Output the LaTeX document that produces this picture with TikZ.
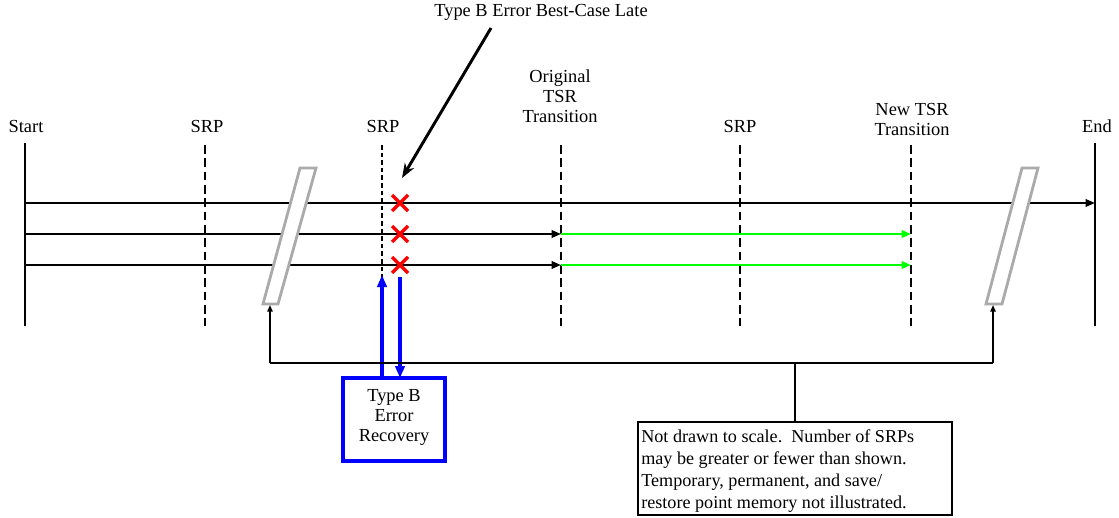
\documentclass[tikz,border=0pt]{standalone}
\usepackage{fontspec}
\setmainfont{Liberation Serif}
\usetikzlibrary{arrows.meta,calc}
\definecolor{bblue}{RGB}{0,0,255}
\definecolor{bgreen}{RGB}{0,255,0}
\definecolor{bred}{RGB}{255,0,0}
\definecolor{pgray}{RGB}{170,170,170}
\begin{document}
\begin{tikzpicture}[x=0.75pt,y=-0.75pt,
  lbl/.style={font=\fontsize{13.8}{15}\selectfont, inner sep=0pt, align=center},
  solidv/.style={line width=2.2pt},
  bigdash/.style={line width=2.2pt, dash pattern=on 6.5pt off 3.5pt},
  smalldash/.style={line width=1.9pt, dash pattern=on 3.5pt off 2.2pt},
  timeline/.style={line width=1.7pt, -{Triangle[length=7pt,width=5.5pt]}},
  greenline/.style={line width=2.1pt, draw=bgreen, -{Triangle[length=7pt,width=5.5pt]}},
  xmark/.style={line width=2.6pt, draw=bred},
  slab/.style={line width=2.1pt, draw=pgray},
  bracket/.style={line width=1.2pt},
  bracketarrow/.style={line width=1.2pt, -{Triangle[length=5pt,width=4pt]}},
  bluearrow/.style={line width=2.5pt, draw=bblue, -{Triangle[length=9pt,width=7pt]}},
  callout/.style={line width=2.2pt, -{Stealth[length=11pt,width=8pt]}}
]
\useasboundingbox (0,0) rectangle (1119,517);

% labels
\node[lbl] (title) at (541,12) {Type B Error Best-Case Late};
\node[lbl] (lstart) at (26,126) {Start};
\node[lbl] (lsrp1) at (207,126) {SRP};
\node[lbl] (lsrp2) at (383,126) {SRP};
\node[lbl] (lorig) at (560,96) {Original\\TSR\\Transition};
\node[lbl] (lsrp3) at (740,126) {SRP};
\node[lbl] (lnew) at (912,119) {New TSR\\Transition};
\node[lbl] (lend) at (1097,126) {End};

% vertical lines
\coordinate (st) at (25,143); \coordinate (sb) at (25,326);
\coordinate (et) at (1095,143); \coordinate (eb) at (1095,326);
\coordinate (s1t) at (205,145); \coordinate (s1b) at (205,326);
\coordinate (s2t) at (382,145); \coordinate (s2b) at (382,326);
\coordinate (ot) at (561,145); \coordinate (ob) at (561,326);
\coordinate (s3t) at (740,145); \coordinate (s3b) at (740,326);
\coordinate (nt) at (911,145); \coordinate (nb) at (911,326);
\draw[solidv] (st) -- (sb);
\draw[solidv] (et) -- (eb);
\draw[bigdash] (s1t) -- (s1b);
\draw[smalldash] (s2t) -- (s2b);
\draw[bigdash] (ot) -- (ob);
\draw[bigdash] (s3t) -- (s3b);
\draw[bigdash] (nt) -- (nb);

% timelines
\coordinate (a1) at (25,203); \coordinate (a1e) at (1095,203);
\coordinate (a2) at (25,234); \coordinate (a2m) at (561,234); \coordinate (a2e) at (911,234);
\coordinate (a3) at (25,265); \coordinate (a3m) at (561,265); \coordinate (a3e) at (911,265);
\draw[timeline] (a1) -- (a1e);
\draw[timeline] (a2) -- (a2m);
\draw[timeline] (a3) -- (a3m);
\draw[greenline] (a2m) -- (a2e);
\draw[greenline] (a3m) -- (a3e);

% gray slabs
\draw[slab, fill=white] (300,168) -- (316,168) -- (278,304) -- (263,304) -- cycle;
\draw[slab, fill=white] (1022,168) -- (1038,168) -- (1002,304) -- (986,304) -- cycle;

% red crosses
\foreach \yy/\nm in {203/x1,234/x2,265/x3}{
  \coordinate (\nm) at (400,\yy);
  \draw[xmark] ($(\nm)+(-8,-8)$) -- ($(\nm)+(8,8)$);
  \draw[xmark] ($(\nm)+(-8,8)$) -- ($(\nm)+(8,-8)$);
}

% callout arrow
\coordinate (cs) at (491,28);
\coordinate (ce) at (402,178);
\draw[callout] (cs) -- (ce);

% recovery box
\node[draw=bblue, line width=2.5pt, inner sep=0pt, minimum width=76.5pt, minimum height=62.25pt] (rec) at (394,419.5) {};
\node[lbl] (rectext) at (394,417) {Type B\\Error\\Recovery};
\coordinate (upb) at (382,378); \coordinate (upt) at (382,275);
\coordinate (dnt) at (400,277); \coordinate (dnb) at (400,378);
\draw[bluearrow] (upb) -- (upt);
\draw[bluearrow] (dnt) -- (dnb);

% bracket
\coordinate (bl) at (270,363); \coordinate (br) at (993,363);
\coordinate (blt) at (270,305); \coordinate (brt) at (993,305);
\coordinate (bm) at (795,363);
\draw[bracket] (bl) -- (br);
\draw[bracketarrow] (bl) -- (blt);
\draw[bracketarrow] (br) -- (brt);

% note
\node[draw, line width=1.4pt, inner sep=0pt, minimum width=235.5pt, minimum height=69.75pt] (note) at (795,468.5) {};
\node[lbl, align=left, anchor=west, font=\fontsize{13.6}{16.4}\selectfont] (notetext) at (641,471) {Not drawn to scale.\ \ Number of SRPs\\may be greater or fewer than shown.\\Temporary, permanent, and save/\\restore point memory not illustrated.};
\draw[bracket] (bm) -- (note.north);
\end{tikzpicture}
\end{document}
